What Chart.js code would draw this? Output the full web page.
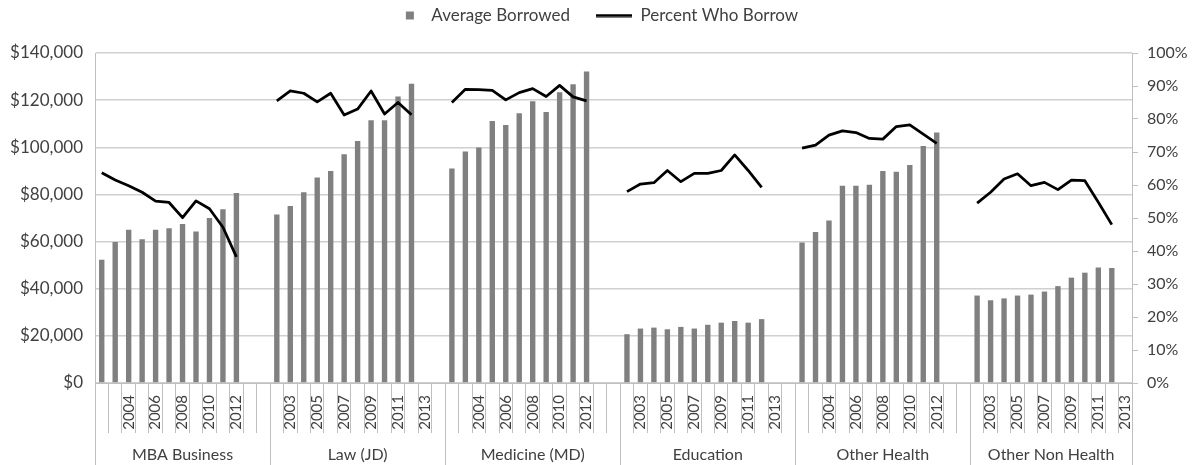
<!DOCTYPE html>
<html>
<head>
<meta charset="utf-8">
<script src="https://cdn.jsdelivr.net/npm/chart.js@4.4.1/dist/chart.umd.min.js"></script>
<style>
html,body{margin:0;padding:0;background:#ffffff;}
#c{display:block;}
</style>
</head>
<body>
<canvas id="c" width="1197" height="465"></canvas>
<script>
// ---- data ----
const groups = ['MBA Business', 'Law (JD)', 'Medicine (MD)', 'Education', 'Other Health', 'Other Non Health'];
const years = ['2002','2003','2004','2005','2006','2007','2008','2009','2010','2011','2012','2013',''];
const ticksEven = ['', '', '2004', '', '2006', '', '2008', '', '2010', '', '2012', '', ''];
const ticksOdd  = ['', '2003', '', '2005', '', '2007', '', '2009', '', '2011', '', '2013', ''];
const groupTicks = [ticksEven, ticksOdd, ticksEven, ticksOdd, ticksEven, ticksOdd];

const borrowedMBA = [52300, 59800, 65000, 61000, 65000, 65700, 67500, 64300, 70000, 73700, 80600];
const borrowedLaw = [71500, 75100, 80900, 87200, 89900, 97000, 102700, 111500, 111500, 121500, 127000];
const borrowedMed = [91000, 98200, 99900, 111100, 109500, 114400, 119500, 115000, 123300, 126700, 132100];
const borrowedEdu = [20700, 23100, 23500, 22800, 23800, 23100, 24700, 25600, 26300, 25600, 27100];
const borrowedOH  = [59600, 64100, 68900, 83700, 83700, 84100, 89900, 89600, 92500, 100500, 106300];
const borrowedONH = [37100, 35100, 35900, 37100, 37500, 38800, 41100, 44700, 46800, 49000, 48800];

const pctMBA = [63.7, 61.5, 59.8, 57.8, 55.1, 54.7, 50.1, 55.2, 52.8, 47.2, 38.2];
const pctLaw = [85.5, 88.5, 87.8, 85.2, 87.8, 81.2, 83.0, 88.5, 81.5, 85.0, 81.3];
const pctMed = [85.0, 89.0, 88.9, 88.7, 85.8, 88.0, 89.2, 86.8, 90.2, 86.7, 85.5];
const pctEdu = [58.0, 60.3, 60.7, 64.4, 61.0, 63.5, 63.5, 64.4, 69.1, 64.4, 59.3];
const pctOH  = [71.2, 72.1, 75.1, 76.4, 75.9, 74.1, 73.9, 77.7, 78.2, 75.4, 72.6];
const pctONH = [54.5, 57.8, 61.8, 63.4, 59.8, 60.8, 58.6, 61.5, 61.3, 54.8, 48.0];

const borrowedByGroup = [borrowedMBA, borrowedLaw, borrowedMed, borrowedEdu, borrowedOH, borrowedONH];
const pctByGroup = [pctMBA, pctLaw, pctMed, pctEdu, pctOH, pctONH];

// ---- build flat arrays (the last group has no trailing blank slot) ----
const labels = [], tickText = [], barData = [], lineData = [];
const groupBounds = [-0.5], groupCenters = [];
groups.forEach((g, gi) => {
  const start = labels.length;
  const n = gi === groups.length - 1 ? years.length - 1 : years.length;
  for (let yi = 0; yi < n; yi++) {
    labels.push(g + ' ' + years[yi]);
    tickText.push(groupTicks[gi][yi]);
    const b = borrowedByGroup[gi][yi];
    const p = pctByGroup[gi][yi];
    barData.push(b === undefined ? null : b);
    lineData.push(p === undefined ? null : p);
  }
  const end = labels.length - 1;
  groupBounds.push(end + 0.5);
  groupCenters.push((start + end) / 2);
});
const xMin = -0.5, xMax = labels.length - 0.5;

// ---- style ----
const FONT = 'Lato';
const TEXT = '#404040';
const AXIS = '#bfbfbf';
const GRID = '#d0d0d0';
const BAR = '#808080';

function makeCanvas(w, h, draw) {
  const c = document.createElement('canvas');
  c.width = w; c.height = h;
  draw(c.getContext('2d'));
  return c;
}
const legendSquare = makeCanvas(28, 10, ctx => { ctx.fillStyle = BAR; ctx.fillRect(19, 1, 8, 8); });
const legendLine = makeCanvas(44, 4, ctx => {
  ctx.strokeStyle = '#000'; ctx.lineWidth = 3; ctx.beginPath(); ctx.moveTo(8, 2); ctx.lineTo(44, 2); ctx.stroke();
});

Chart.defaults.font.family = FONT;
Chart.defaults.color = TEXT;

new Chart(document.getElementById('c'), {
  data: {
    labels: labels,
    datasets: [
      {
        type: 'line', label: 'Percent Who Borrow', data: lineData, yAxisID: 'y1', xAxisID: 'x',
        borderColor: '#000000', borderWidth: 2.75, pointRadius: 0, tension: 0, spanGaps: false,
        borderJoinStyle: 'round', order: 0
      },
      {
        type: 'bar', label: 'Average Borrowed', data: barData, yAxisID: 'y', xAxisID: 'x',
        backgroundColor: BAR, borderWidth: 0, barPercentage: 0.4, categoryPercentage: 1.0, order: 1
      }
    ]
  },
  options: {
    responsive: false,
    animation: false,
    layout: { padding: { top: -11, left: -10, right: 10, bottom: 0 } },
    plugins: {
      tooltip: { enabled: false },
      legend: {
        position: 'top',
        align: 'center',
        labels: {
          usePointStyle: true,
          pointStyleWidth: 44,
          padding: 18,
          color: TEXT,
          font: { family: FONT, size: 17 },
          generateLabels: () => [
            { text: 'Average Borrowed', pointStyle: legendSquare, fillStyle: BAR, strokeStyle: BAR, lineWidth: 0, hidden: false, datasetIndex: 1, fontColor: TEXT },
            { text: 'Percent Who Borrow', pointStyle: legendLine, fillStyle: '#000', strokeStyle: '#000', lineWidth: 0, hidden: false, datasetIndex: 0, fontColor: TEXT }
          ]
        }
      }
    },
    scales: {
      spacer: {
        type: 'category', position: 'top', display: true,
        grid: { display: false }, border: { display: false }, ticks: { display: false },
        afterFit: s => { s.height = 19; }
      },
      x: {
        type: 'category', position: 'bottom', offset: true,
        grid: { offset: true, drawOnChartArea: false, drawTicks: true, tickLength: 50, color: AXIS, lineWidth: 1 },
        border: { display: true, color: AXIS, width: 1 },
        ticks: {
          autoSkip: false, minRotation: 90, maxRotation: 90, padding: -38,
          font: { family: FONT, size: 15 }, color: TEXT,
          callback: (v, i) => tickText[i]
        },
        afterFit: s => { s.height = 47; }
      },
      xGroupLines: {
        type: 'linear', position: 'bottom', min: xMin, max: xMax, bounds: 'data',
        afterBuildTicks: s => { s.ticks = groupBounds.map(v => ({ value: v })); },
        grid: { drawOnChartArea: false, drawTicks: true, tickLength: 35, color: AXIS, lineWidth: 1 },
        border: { display: false },
        ticks: { display: false },
        afterFit: s => { s.height = 0; }
      },
      xGroups: {
        type: 'linear', position: 'bottom', min: xMin, max: xMax, bounds: 'data',
        afterBuildTicks: s => { s.ticks = groupCenters.map(v => ({ value: v })); },
        grid: { display: false, drawTicks: false },
        border: { display: false },
        ticks: { autoSkip: false, maxRotation: 0, minRotation: 0, padding: 15,
          font: { family: FONT, size: 16 }, color: TEXT,
          callback: (v, i) => groups[i] },
        afterFit: s => { s.height = 35; }
      },
      y: {
        type: 'linear', position: 'left', min: 0, max: 140000,
        ticks: { stepSize: 20000, padding: 12, font: { family: FONT, size: 17 }, color: TEXT,
          callback: v => '$' + Number(v).toLocaleString('en-US') },
        grid: { color: GRID, lineWidth: 1.5, drawTicks: false },
        border: { display: true, color: AXIS, width: 1 },
        afterFit: s => { s.width = 105; }
      },
      y1: {
        type: 'linear', position: 'right', min: 0, max: 100,
        ticks: { stepSize: 10, padding: 9, font: { family: FONT, size: 16 }, color: TEXT,
          callback: v => v + '%' },
        grid: { drawOnChartArea: false, drawTicks: true, tickLength: 6, color: AXIS },
        border: { display: true, color: AXIS, width: 1 },
        afterFit: s => { s.width = 55; }
      }
    }
  }
});
</script>
</body>
</html>
